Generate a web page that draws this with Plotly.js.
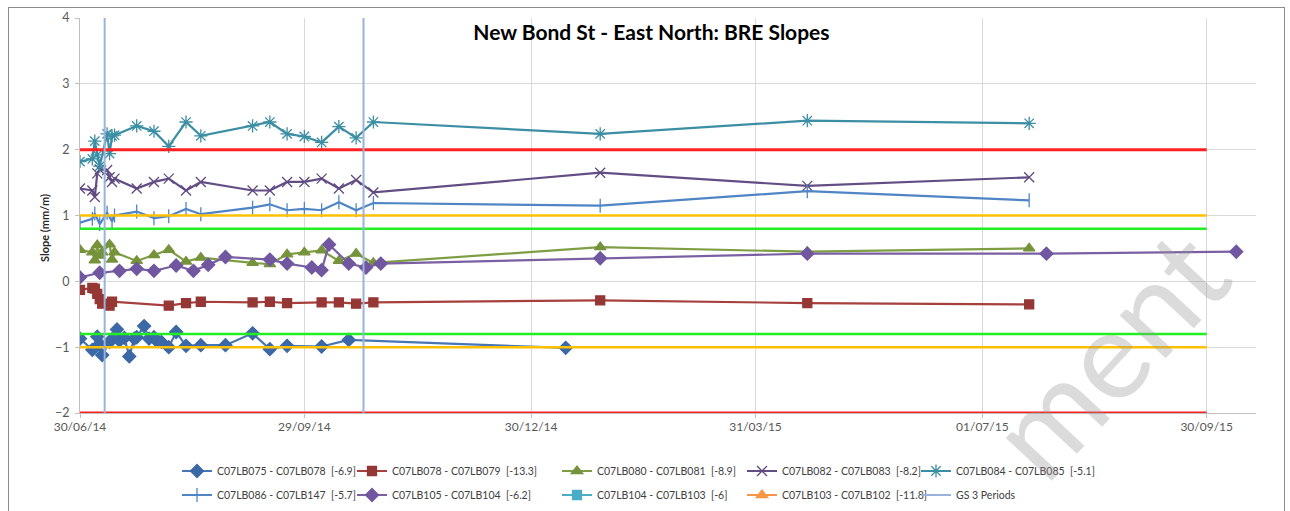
<!DOCTYPE html>
<html>
<head>
<meta charset="utf-8">
<script src="https://cdn.plot.ly/plotly-3.0.1.min.js"></script>
<style>
  html, body { margin: 0; padding: 0; background: #ffffff; }
  #wrap { position: relative; width: 1290px; height: 511px; }
  #chart { position: absolute; left: 0; top: 0; width: 1290px; height: 511px; }
  #frame { position: absolute; left: 8px; top: 7px; width: 1277px; height: 510px; border: 1px solid #8c8c8c; box-sizing: border-box; pointer-events: none; }
</style>
</head>
<body>
<div id="wrap">
  <div id="chart"></div>
  <div id="frame"></div>
</div>
<script>
// ---------- data ----------
const chartTitle = 'New Bond St - East North: BRE Slopes';
const yAxisTitle = 'Slope (mm/m)';
const watermarkText = 'ment';

const tickDates  = ['2014-06-30', '2014-09-29', '2014-12-30', '2015-03-31', '2015-07-01', '2015-09-30'];
const tickLabels = ['30/06/14', '29/09/14', '30/12/14', '31/03/15', '01/07/15', '30/09/15'];
const xRange = ['2014-06-30', '2015-10-20'];
const yRange = [-2, 4];

// C07LB075 - C07LB078 [-6.9]
const dates075 = ['2014-06-30','2014-07-05','2014-07-07','2014-07-08','2014-07-09','2014-07-12','2014-07-13','2014-07-15','2014-07-16','2014-07-18','2014-07-20','2014-07-22','2014-07-23','2014-07-26','2014-07-28','2014-07-30','2014-07-31','2014-08-02','2014-08-05','2014-08-08','2014-08-12','2014-08-18','2014-08-28','2014-09-08','2014-09-15','2014-09-22','2014-10-06','2014-10-17','2015-01-13'];
const vals075  = [-0.87,-1.04,-0.84,-0.95,-1.12,-0.92,-0.88,-0.73,-0.90,-0.86,-1.14,-0.87,-0.85,-0.68,-0.87,-0.85,-0.90,-0.92,-1.00,-0.77,-0.98,-0.97,-0.97,-0.79,-1.03,-0.98,-0.99,-0.89,-1.01];

// C07LB078 - C07LB079 [-13.3]
const dates078 = ['2014-06-30','2014-07-05','2014-07-06','2014-07-07','2014-07-08','2014-07-09','2014-07-12','2014-07-13','2014-08-05','2014-08-12','2014-08-18','2014-09-08','2014-09-15','2014-09-22','2014-10-06','2014-10-13','2014-10-20','2014-10-27','2015-01-27','2015-04-21','2015-07-20'];
const vals078  = [-0.13,-0.10,-0.11,-0.19,-0.27,-0.34,-0.37,-0.31,-0.37,-0.33,-0.31,-0.32,-0.31,-0.33,-0.32,-0.32,-0.34,-0.32,-0.29,-0.33,-0.35];

// C07LB080 - C07LB081 [-8.9]
const dates080 = ['2014-06-30','2014-07-05','2014-07-06','2014-07-07','2014-07-08','2014-07-09','2014-07-12','2014-07-13','2014-07-14','2014-07-23','2014-07-30','2014-08-05','2014-08-12','2014-08-18','2014-09-08','2014-09-15','2014-09-22','2014-09-29','2014-10-06','2014-10-13','2014-10-20','2014-10-27','2015-01-27','2015-04-21','2015-07-20'];
const vals080  = [0.48,0.44,0.32,0.55,0.39,0.44,0.56,0.33,0.44,0.31,0.40,0.48,0.30,0.36,0.28,0.26,0.41,0.44,0.47,0.31,0.42,0.28,0.52,0.45,0.50];

// C07LB082 - C07LB083 [-8.2]
const dates082 = ['2014-06-30','2014-07-05','2014-07-06','2014-07-07','2014-07-08','2014-07-11','2014-07-12','2014-07-13','2014-07-14','2014-07-23','2014-07-30','2014-08-05','2014-08-12','2014-08-18','2014-09-08','2014-09-15','2014-09-22','2014-09-29','2014-10-06','2014-10-13','2014-10-20','2014-10-27','2015-01-27','2015-04-21','2015-07-20'];
const vals082  = [1.41,1.38,1.28,1.64,1.70,1.69,1.58,1.51,1.56,1.41,1.51,1.56,1.38,1.51,1.38,1.38,1.51,1.51,1.56,1.41,1.54,1.35,1.65,1.45,1.58];

// C07LB084 - C07LB085 [-5.1]
const dates084 = ['2014-06-30','2014-07-05','2014-07-06','2014-07-07','2014-07-08','2014-07-11','2014-07-12','2014-07-13','2014-07-14','2014-07-23','2014-07-30','2014-08-05','2014-08-12','2014-08-18','2014-09-08','2014-09-15','2014-09-22','2014-09-29','2014-10-06','2014-10-13','2014-10-20','2014-10-27','2015-01-27','2015-04-21','2015-07-20'];
const vals084  = [1.82,1.86,2.13,1.92,1.75,2.24,1.94,2.21,2.22,2.36,2.28,2.05,2.42,2.21,2.36,2.42,2.24,2.20,2.11,2.35,2.18,2.42,2.24,2.44,2.40];

// C07LB086 - C07LB147 [-5.7]
const dates086 = ['2014-06-30','2014-07-05','2014-07-06','2014-07-08','2014-07-11','2014-07-13','2014-07-14','2014-07-23','2014-07-30','2014-08-05','2014-08-12','2014-08-18','2014-09-08','2014-09-15','2014-09-22','2014-09-29','2014-10-06','2014-10-13','2014-10-20','2014-10-27','2015-01-27','2015-04-21','2015-07-20'];
const vals086  = [0.89,0.95,1.03,0.87,1.04,0.91,1.00,1.06,0.96,0.99,1.10,1.02,1.12,1.17,1.08,1.10,1.08,1.20,1.08,1.19,1.15,1.37,1.23];

// C07LB105 - C07LB104 [-6.2]
const dates105 = ['2014-06-30','2014-07-08','2014-07-16','2014-07-23','2014-07-30','2014-08-08','2014-08-15','2014-08-21','2014-08-28','2014-09-15','2014-09-22','2014-10-02','2014-10-06','2014-10-09','2014-10-17','2014-10-24','2014-10-30','2015-01-27','2015-04-21','2015-07-27','2015-10-12'];
const vals105  = [0.06,0.13,0.16,0.19,0.16,0.24,0.16,0.25,0.37,0.33,0.27,0.21,0.17,0.56,0.27,0.21,0.27,0.35,0.42,0.42,0.45];

// C07LB104 - C07LB103 [-6] and C07LB103 - C07LB102 [-11.8] (no values plotted)
const dates104 = [null];
const vals104  = [null];
const dates103 = [null];
const vals103  = [null];

// GS 3 Periods
const gsDates = ['2014-07-10', '2014-10-23'];

// limit lines
const limitDates = ['2014-06-30', '2015-09-30'];
const redLimits = [2, -2];
const orangeLimits = [1, -1];
const greenLimits = [0.8, -0.8];

// ---------- build ----------
const FONT = 'Lato, "Open Sans", sans-serif';

function series(name, x, y, color, mcolor, symbol, size, legendId) {
  return {
    type: 'scatter', mode: 'lines+markers', name: name, x: x, y: y,
    line: { color: color, width: 2.2 },
    marker: { color: mcolor, symbol: symbol, size: size, line: { color: mcolor, width: 1.3 } },
    legend: legendId
  };
}

function limitTrace(levels, color, width) {
  const x = [], y = [];
  levels.forEach(function (v, i) {
    if (i > 0) { x.push(null); y.push(null); }
    x.push(limitDates[0], limitDates[1]);
    y.push(v, v);
  });
  return { type: 'scatter', mode: 'lines', x: x, y: y, showlegend: false, hoverinfo: 'skip',
           line: { color: color, width: width } };
}

const gsX = [], gsY = [];
gsDates.forEach(function (d, i) {
  if (i > 0) { gsX.push(null); gsY.push(null); }
  gsX.push(d, d); gsY.push(yRange[0], yRange[1]);
});

const traces = [
  series('C07LB075 - C07LB078  [-6.9]', dates075, vals075, '#4676B4', '#3B68A6', 'diamond', 10, 'legend'),
  series('C07LB078 - C07LB079  [-13.3]', dates078, vals078, '#A5403D', '#953735', 'square', 9, 'legend2'),
  series('C07LB080 - C07LB081  [-8.9]', dates080, vals080, '#7E9E44', '#76933C', 'triangle-up', 10, 'legend3'),
  series('C07LB082 - C07LB083  [-8.2]', dates082, vals082, '#634D85', '#5F4A80', 'x-thin-open', 10, 'legend4'),
  series('C07LB084 - C07LB085  [-5.1]', dates084, vals084, '#3C8EA4', '#3C8EA4', 'asterisk-open', 11, 'legend5'),
  series('C07LB086 - C07LB147  [-5.7]', dates086, vals086, '#4F85C5', '#4F85C5', 'line-ns-open', 10, 'legend6'),
  series('C07LB105 - C07LB104  [-6.2]', dates105, vals105, '#7A5FA3', '#7057A0', 'diamond', 10, 'legend7'),
  series('C07LB104 - C07LB103  [-6]', dates104, vals104, '#4BACC6', '#4BACC6', 'square', 9, 'legend8'),
  series('C07LB103 - C07LB102  [-11.8]', dates103, vals103, '#F79646', '#F79646', 'triangle-up', 10, 'legend9'),
  limitTrace(redLimits, '#FF2020', 3),
  limitTrace(orangeLimits, '#FFC000', 2.5),
  limitTrace(greenLimits, '#22EE22', 2.5),
  { type: 'scatter', mode: 'lines', name: 'GS 3 Periods', x: gsX, y: gsY,
    line: { color: '#9AB3D8', width: 2 }, legend: 'legend10', hoverinfo: 'skip' }
];

// legend layout (two rows, five columns), in container pixels
const colMid = [197, 372, 577, 762, 936];
const rowMid = [471, 495];
const W = 1290, H = 511;
const plotL = 80, plotR = 1256, plotT = 18, plotB = 413;
function legendAt(col, row) {
  return {
    xref: 'container', yref: 'container',
    x: (colMid[col] - 20) / W,
    y: 1 - rowMid[row] / H,
    xanchor: 'left', yanchor: 'middle', orientation: 'h',
    bgcolor: 'rgba(0,0,0,0)', borderwidth: 0,
    font: { family: FONT, size: 10.5, color: '#404040' }
  };
}

const layout = {
  width: W, height: H,
  paper_bgcolor: '#ffffff', plot_bgcolor: '#ffffff',
  margin: { l: plotL, r: W - plotR, t: plotT, b: H - plotB, pad: 0, autoexpand: false },
  font: { family: FONT, color: '#595959' },
  title: { text: '<b>' + chartTitle + '</b>', x: 0.505, xanchor: 'center', y: 0.937, yanchor: 'middle',
           font: { family: FONT, size: 21, color: '#000000' } },
  showlegend: true,
  xaxis: {
    type: 'date', range: xRange, tickvals: tickDates, ticktext: tickLabels,
    showgrid: true, gridcolor: '#D9D9D9', gridwidth: 1, zeroline: false,
    showline: true, linecolor: '#BFBFBF', linewidth: 1,
    ticks: 'outside', ticklen: 4, tickcolor: '#BFBFBF', ticklabelstandoff: -1,
    tickfont: { family: FONT, size: 12, color: '#595959' }, fixedrange: true, automargin: false
  },
  yaxis: {
    range: yRange, tickvals: [-2, -1, 0, 1, 2, 3, 4],
    showgrid: true, gridcolor: '#D9D9D9', gridwidth: 1, zeroline: false,
    showline: true, linecolor: '#BFBFBF', linewidth: 1,
    ticks: 'outside', ticklen: 4, tickcolor: '#BFBFBF', ticklabelstandoff: 3,
    tickfont: { family: FONT, size: 12.5, color: '#595959' },
    fixedrange: true, automargin: false
  },
  legend: legendAt(0, 0), legend2: legendAt(1, 0), legend3: legendAt(2, 0), legend4: legendAt(3, 0), legend5: legendAt(4, 0),
  legend6: legendAt(0, 1), legend7: legendAt(1, 1), legend8: legendAt(2, 1), legend9: legendAt(3, 1), legend10: legendAt(4, 1),
  annotations: [
    {
      xref: 'paper', yref: 'paper', x: (45 - plotL) / (plotR - plotL), y: (plotB - 228) / (plotB - plotT),
      xanchor: 'center', yanchor: 'middle',
      text: '<b>' + yAxisTitle + '</b>', showarrow: false, textangle: -90,
      font: { family: FONT, size: 11, color: '#262626' }
    },
    {
      xref: 'paper', yref: 'paper', x: (1106 - plotL) / (plotR - plotL), y: (plotB - 352) / (plotB - plotT),
      xanchor: 'center', yanchor: 'middle',
      text: watermarkText, showarrow: false, textangle: -47,
      font: { family: FONT, size: 124, color: 'rgba(150,150,150,0.34)' }
    }
  ]
};

Plotly.newPlot('chart', traces, layout, { displayModeBar: false, staticPlot: true });
</script>
</body>
</html>
